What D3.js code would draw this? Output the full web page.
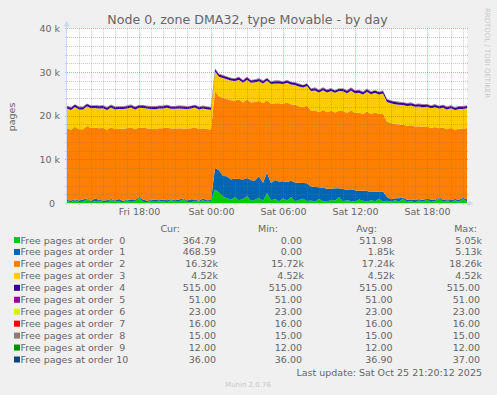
<!DOCTYPE html>
<html>
<head>
<meta charset="utf-8">
<script src="https://cdn.jsdelivr.net/npm/d3@7"></script>
<style>
body { margin: 0; background: #f0f0f0; }
svg { display: block; font-family: "DejaVu Sans", sans-serif; }
text { fill: #666; }
</style>
</head>
<body>
<svg width="497" height="395"></svg>
<script>
// samples every 20 minutes, Fri 12:00 -> Sat 21:20
var startTime = new Date(2025, 9, 24, 12, 0);
var endTime = new Date(2025, 9, 25, 21, 20);
var stepMinutes = 20;

var order0 = [420, 180, 650, 240, 310, 900, 150, 380, 520, 210, 160, 740, 280, 330, 190, 610, 250, 420, 1150, 300,
	170, 560, 230, 380, 470, 200, 690, 260, 310, 880, 240, 180, 520, 330, 610, 280, 450,
	3100, 2400, 1500, 1100, 800, 1300, 650, 900, 1600, 500, 750, 1200, 450, 2300, 600, 900, 400, 1100, 550, 1400,
	380, 700, 1000, 450,
	600, 350, 900, 420, 280, 750, 500, 1300, 380, 620, 450, 300, 820, 540, 260, 700, 400, 950, 350,
	500, 280, 650, 320, 900, 240, 410, 180, 560, 300, 750, 220, 380, 1100, 260, 450, 190, 620, 310, 980, 365];

var order1 = [260, 410, 150, 330, 520, 180, 290, 640, 210, 350, 470, 160, 310, 580, 240, 190, 430, 270, 220, 510,
	340, 180, 600, 250, 310, 450, 170, 380, 520, 210, 330, 690, 260, 180, 400, 350, 220,
	4900, 5100, 4700, 5000, 4600, 4300, 4850, 4500, 4100, 4700, 4400, 4950, 4200, 4600, 4000, 4350, 4550, 3900, 4250, 3700,
	4300, 3950, 3600, 4100,
	3200, 3300, 2700, 3100, 3000, 2500, 2900, 2100, 2800, 2400, 2700, 2600, 1900, 2300, 2500, 1800, 2200, 1600, 2300,
	900, 600, 420, 750, 380, 520, 300, 640, 280, 450, 210, 560, 330, 240, 480, 190, 520, 280, 410, 230, 469];

var order2 = [16420, 16180, 16650, 16310, 16050, 16540, 16720, 16240, 16380, 16610, 16150, 16470, 16290, 16080, 16560,
	16340, 16690, 16210, 15900, 16430, 16580, 16260, 16120, 16500, 16350, 16640, 16190, 16410, 16280, 15980,
	16460, 16230, 16550, 16370, 16120, 16300, 16180,
	17600, 16900, 17900, 17700, 18100, 17800, 18200, 17600, 18000, 17800, 18000, 17200, 18200, 16600, 18100, 17600,
	17900, 17700, 18200, 17500, 17800, 17500, 17300, 17700,
	17300, 17600, 17200, 17800, 17500, 17900, 17300, 17700, 17900, 17600, 18100, 17700, 18000, 17500, 18200, 17900,
	18100, 17800, 17900,
	17200, 17420, 17030, 16930, 16620, 16940, 17090, 16680, 16760, 16650, 16540, 16420, 16690, 15760, 16560, 16260,
	16490, 15900, 16280, 15800, 16320];

// orders 3..10 stay flat over the whole day
var flatLevels = [4520, 515, 51, 23, 16, 15, 12, 36];

var seriesNames = ["Free pages at order  0", "Free pages at order  1", "Free pages at order  2", "Free pages at order  3",
	"Free pages at order  4", "Free pages at order  5", "Free pages at order  6", "Free pages at order  7",
	"Free pages at order  8", "Free pages at order  9", "Free pages at order 10"];
var seriesColors = ["#00cc00", "#0066b3", "#ff8000", "#ffcc00", "#330099", "#990099", "#ccff00", "#ff0000",
	"#808080", "#008f00", "#00487d"];

var curValues = ["364.79", "468.59", "16.32k", "4.52k", "515.00", "51.00", "23.00", "16.00", "15.00", "12.00", "36.00"];
var minValues = ["0.00", "0.00", "15.72k", "4.52k", "515.00", "51.00", "23.00", "16.00", "15.00", "12.00", "36.00"];
var avgValues = ["511.98", "1.85k", "17.24k", "4.52k", "515.00", "51.00", "23.00", "16.00", "15.00", "12.00", "36.90"];
var maxValues = ["5.05k", "5.13k", "18.26k", "4.52k", "515.00", "51.00", "23.00", "16.00", "15.00", "12.00", "37.00"];

var yTicks = [0, 10000, 20000, 30000, 40000];

var plotL = 67, plotR = 467, plotT = 28.3, plotB = 203;

var svg = d3.select("svg");

var xScale = d3.scaleTime()
	.domain([startTime, endTime])
	.range([plotL, plotR]);

var yScale = d3.scaleLinear()
	.domain([0, 40000])
	.range([plotB, plotT]);

var rows = order0.map(function(v, i) {
	var r = { t: new Date(startTime.getTime() + i * stepMinutes * 60000) };
	r[0] = order0[i];
	r[1] = order1[i];
	r[2] = order2[i];
	for (var k = 3; k <= 10; k++) r[k] = flatLevels[k - 3];
	return r;
});

var layers = d3.stack().keys(d3.range(11))(rows);

// canvas
svg.append("rect")
	.attr("x", plotL).attr("y", plotT)
	.attr("width", plotR - plotL).attr("height", plotB - plotT)
	.attr("fill", "#ffffff");

svg.append("clipPath").attr("id", "plot")
	.append("rect")
	.attr("x", plotL).attr("y", plotT)
	.attr("width", plotR - plotL).attr("height", plotB - plotT);

var area = d3.area()
	.x(function(d) { return xScale(d.data.t); })
	.y0(function(d) { return yScale(d[0]); })
	.y1(function(d) { return yScale(d[1]); });

svg.append("g")
	.attr("clip-path", "url(#plot)")
	.selectAll("path")
	.data(layers)
	.enter().append("path")
		.attr("fill", function(d) { return seriesColors[d.key]; })
		.attr("d", area);

// grid, drawn over the data like rrdtool does
var grid = svg.append("g").attr("stroke-width", 1).attr("stroke-dasharray", "1,1");

var minorY = d3.range(0, 40001, 2000).filter(function(v) { return v % 10000 != 0; });
grid.selectAll(".hmin").data(minorY).enter().append("line")
	.attr("x1", plotL - 2).attr("x2", plotR + 2)
	.attr("y1", function(d) { return Math.round(yScale(d)) + 0.5; })
	.attr("y2", function(d) { return Math.round(yScale(d)) + 0.5; })
	.attr("stroke", "rgba(120,120,120,0.4)");

var hours = d3.timeHour.every(1).range(new Date(startTime.getTime() + 1), endTime);
grid.selectAll(".vmin").data(hours.filter(function(d) { return d.getHours() % 6 != 0; })).enter().append("line")
	.attr("y1", plotT).attr("y2", plotB + 2)
	.attr("x1", function(d) { return Math.round(xScale(d)) + 0.5; })
	.attr("x2", function(d) { return Math.round(xScale(d)) + 0.5; })
	.attr("stroke", "rgba(120,120,120,0.4)");

grid.selectAll(".hmaj").data(yTicks.filter(function(v) { return v > 0; })).enter().append("line")
	.attr("x1", plotL - 2).attr("x2", plotR + 2)
	.attr("y1", function(d) { return Math.round(yScale(d)) + 0.5; })
	.attr("y2", function(d) { return Math.round(yScale(d)) + 0.5; })
	.attr("stroke", "rgba(230,60,60,0.45)");

var sixHours = d3.timeHour.every(6).range(new Date(startTime.getTime() + 1), endTime);
grid.selectAll(".vmaj").data(sixHours).enter().append("line")
	.attr("y1", plotT).attr("y2", plotB + 2)
	.attr("x1", function(d) { return Math.round(xScale(d)) + 0.5; })
	.attr("x2", function(d) { return Math.round(xScale(d)) + 0.5; })
	.attr("stroke", "rgba(230,60,60,0.45)");

// axes
var axisColor = "#cfd6f8";
svg.append("line")
	.attr("x1", plotL - 0.5).attr("x2", plotL - 0.5)
	.attr("y1", plotB + 2).attr("y2", 24)
	.attr("stroke", axisColor);
svg.append("line")
	.attr("x1", plotL - 2).attr("x2", plotR + 2)
	.attr("y1", plotB + 0.5).attr("y2", plotB + 0.5)
	.attr("stroke", axisColor);
svg.append("path")
	.attr("d", "M" + (plotL - 3.5) + ",26.5L" + (plotL - 0.5) + ",20.5L" + (plotL + 2.5) + ",26.5Z")
	.attr("fill", axisColor);
svg.append("path")
	.attr("d", "M" + (plotR + 0.5) + "," + (plotB - 2.5) + "L" + (plotR + 6.5) + "," + (plotB + 0.5) + "L" + (plotR + 0.5) + "," + (plotB + 3.5) + "Z")
	.attr("fill", axisColor);

var yAxis = d3.axisLeft(yScale)
	.tickValues(yTicks)
	.tickSize(0)
	.tickPadding(0)
	.tickFormat(function(d) { return d == 0 ? "0" : (d / 1000) + " k"; });

var yg = svg.append("g")
	.attr("transform", "translate(" + (plotL - 7) + ",0)")
	.call(yAxis);
yg.select(".domain").remove();
yg.selectAll("text")
	.attr("font-size", "9.5px")
	.attr("font-family", "DejaVu Sans")
	.attr("fill", "#666")
	.attr("dx", function(d) { return d == 0 ? -5 : 0; });

var xAxis = d3.axisBottom(xScale)
	.tickValues(sixHours)
	.tickSize(0)
	.tickPadding(0)
	.tickFormat(d3.timeFormat("%a %H:%M"));

var xg = svg.append("g")
	.attr("transform", "translate(0," + (plotB + 5) + ")")
	.call(xAxis);
xg.select(".domain").remove();
xg.selectAll("text")
	.attr("font-size", "9.5px")
	.attr("font-family", "DejaVu Sans")
	.attr("fill", "#666");

// titles
svg.append("text")
	.attr("x", 247.5).attr("y", 24)
	.attr("text-anchor", "middle")
	.attr("font-size", "12.6px")
	.text("Node 0, zone DMA32, type Movable - by day");

svg.append("text")
	.attr("transform", "translate(14.5,117) rotate(-90)")
	.attr("text-anchor", "middle")
	.attr("font-size", "9.5px")
	.text("pages");

svg.append("text")
	.attr("transform", "translate(485,53) rotate(90)")
	.attr("text-anchor", "middle")
	.attr("font-size", "7px")
	.style("fill", "#c8c8c8")
	.text("RRDTOOL / TOBI OETIKER");

// legend
var colRight = [216, 302, 392.5, 480];
var headers = ["Cur:", "Min:", "Avg:", "Max:"];
var headRight = [180, 278, 377, 477];
svg.selectAll(".head").data(headers).enter().append("text")
	.attr("x", function(d, i) { return headRight[i]; })
	.attr("y", 231.5)
	.attr("text-anchor", "end")
	.attr("font-size", "9.5px")
	.text(function(d) { return d; });

var rowY = function(i) { return 240 + i * 11.95; };

var legend = svg.selectAll(".leg").data(seriesNames).enter().append("g");
legend.append("rect")
	.attr("x", 14).attr("y", function(d, i) { return rowY(i) - 3; })
	.attr("width", 6).attr("height", 6)
	.attr("fill", function(d, i) { return seriesColors[i]; });
legend.append("text")
	.attr("x", 20.5).attr("y", function(d, i) { return rowY(i) + 3.5; })
	.attr("font-size", "9.5px")
	.style("white-space", "pre")
	.text(function(d) { return d; });

[curValues, minValues, avgValues, maxValues].forEach(function(col, c) {
	legend.append("text")
		.attr("x", function(d, i) { return colRight[c] + (col[i].indexOf("k") >= 0 ? 2 : 0); })
		.attr("y", function(d, i) { return rowY(i) + 3.5; })
		.attr("text-anchor", "end")
		.attr("font-size", "9.5px")
		.text(function(d, i) { return col[i]; });
});

svg.append("text")
	.attr("x", 482).attr("y", 375.5)
	.attr("text-anchor", "end")
	.attr("font-size", "9.5px")
	.text("Last update: Sat Oct 25 21:20:12 2025");

svg.append("text")
	.attr("x", 248).attr("y", 386.5)
	.attr("text-anchor", "middle")
	.attr("font-size", "7px")
	.style("fill", "#c8c8c8")
	.text("Munin 2.0.76");
</script>
</body>
</html>
